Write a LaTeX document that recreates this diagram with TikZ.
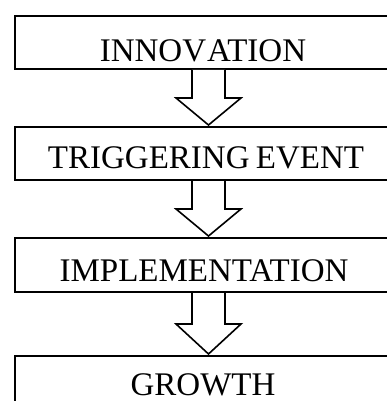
\documentclass[tikz,border=0pt]{standalone}
\usepackage{fontspec}
\setmainfont{Liberation Serif}
\usetikzlibrary{calc}
\tikzset{
  boxnode/.style={draw=black, line width=2pt, fill=white, rectangle, anchor=north west, inner sep=0pt, minimum width=386pt},
  lbl/.style={anchor=base, inner sep=0pt, font=\fontsize{33}{39}\selectfont},
  fatarrow/.style={draw=black, line width=1.6pt, fill=white, line join=miter}
}
\begin{document}
\begin{tikzpicture}[x=1pt,y=-1pt]
\useasboundingbox (0,0) rectangle (387,401);
\clip (0,0) rectangle (387,401);
\node[boxnode, minimum height=53pt] (b1) at (14,15) {};
\node[boxnode, minimum height=53pt] (b2) at (14,126) {};
\node[boxnode, minimum height=54pt] (b3) at (14,237) {};
\node[boxnode, minimum height=60pt] (b4) at (14,355) {};
\node[lbl] (t1) at (203,62) {INNOV\kern1pt ATION};
\node[lbl] (t2) at (206,168) {TRIGGERING\kern-2pt\ EVENT};
\node[lbl] (t3) at (204,281) {IMPLEMENTATION};
\node[lbl] (t4) at (203,395) {GROWTH};
% arrows
\foreach \a/\b in {b1/b2, b2/b3, b3/b4}{
  \path (\a.south west) coordinate (top-\a);
  \path (\b.north west) coordinate (bot-\a);
  \draw[fatarrow] ($(top-\a)+(178,0)$) -- ($(top-\a)!0.5!(bot-\a)+(178,0)$) -- ++(-16,0) -- ($(bot-\a)+(194.5,-1)$) -- ($(top-\a)!0.5!(bot-\a)+(227,0)$) -- ++(-16,0) -- ($(top-\a)+(211,0)$);
}
\end{tikzpicture}
\end{document}
